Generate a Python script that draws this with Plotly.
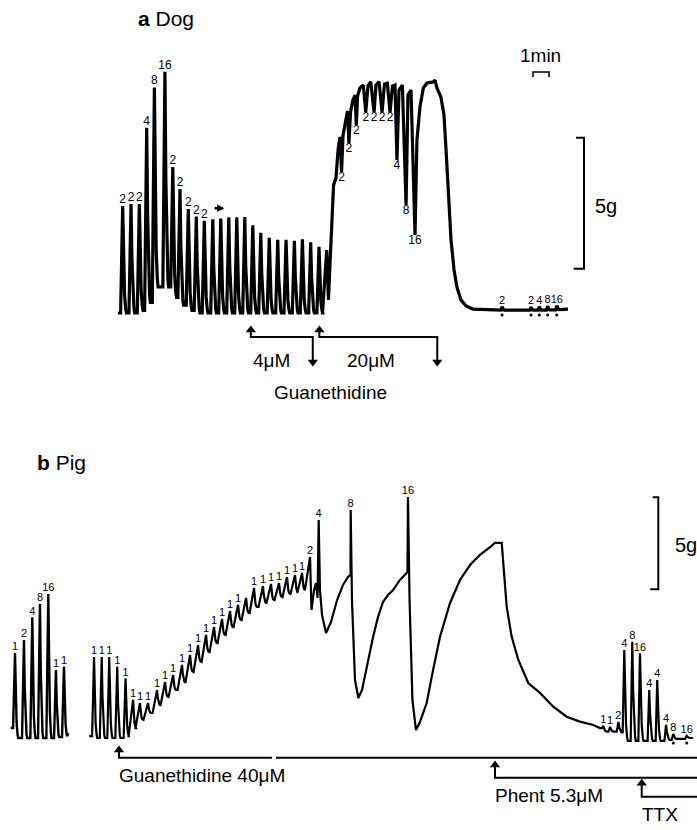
import plotly.graph_objects as go

# ================= DATA =================
# ---- panel a: dog (time in min, tension in g) ----
dog_stim_t = [0.00, 0.52, 1.04, 1.50, 1.98, 2.64, 3.13, 3.58, 4.10, 4.60, 5.10, 5.63, 6.13,
              6.63, 7.13, 7.63, 8.13, 8.63, 9.16, 9.69, 10.21, 10.73, 11.23, 11.75, 12.27]
dog_stim_peak_g = [4.08, 4.16, 4.16, 7.07, 8.61, 9.21, 5.57, 4.73, 3.97, 3.68, 3.52, 3.58, 3.61,
                   3.65, 3.65, 3.66, 3.35, 3.06, 2.87, 2.79, 2.79, 2.76, 2.81, 2.70, 2.53]
dog_stim_trough_g = [0.0, 0.0, 0.1, 0.4, 1.0, 1.0, 0.6, 0.3, 0.1, 0.0, 0.0, 0.0, 0.0,
                     0.0, 0.0, 0.0, 0.0, 0.0, 0.0, 0.0, 0.0, 0.0, 0.0, 0.0, 0.0]
dog_stim_label = ["2", "2", "2", "4", "8", "16", "2", "2", "2", "2", "2", "", "",
                  "", "", "", "", "", "", "", "", "", "", "", ""]

dog_plateau_t = [12.49, 12.75, 12.86, 12.96, 13.08, 13.18, 13.33, 13.46, 13.58, 13.68, 13.77, 13.96,
                 14.05, 14.14, 14.24, 14.39, 14.52, 14.60, 14.68, 14.83, 15.04, 15.19, 15.33, 15.50,
                 15.71, 15.83, 16.02, 16.21, 16.36, 16.54, 16.71, 16.86, 17.02, 17.14, 17.27, 17.48,
                 17.71, 17.83, 18.02, 18.27, 18.39, 18.58, 18.79, 19.02, 19.41, 19.52, 19.64, 19.89,
                 20.08, 20.21, 20.36, 20.52, 20.71, 20.89, 21.14, 21.46, 21.89, 23.58]
dog_plateau_g = [0.00, 2.40, 0.50, 1.95, 3.36, 4.89, 5.15, 6.22, 6.72, 5.38, 6.79, 7.44,
                 7.71, 6.49, 7.67, 8.13, 8.32, 7.18, 8.28, 8.59, 8.70, 7.67, 8.66, 8.83,
                 7.67, 8.70, 8.83, 7.67, 8.74, 8.77, 7.67, 8.66, 8.70, 5.84, 8.51, 8.70,
                 4.12, 8.32, 8.51, 2.98, 6.60, 7.87, 8.59, 8.78, 8.82, 8.89, 8.59, 8.24,
                 7.56, 6.22, 4.31, 2.79, 1.64, 0.99, 0.50, 0.27, 0.15, 0.11]
dog_dip_t = [13.68, 14.14, 14.60, 15.19, 15.71, 16.21, 16.71, 17.14, 17.71, 18.27]
dog_dip_g = [5.38, 6.49, 7.18, 7.67, 7.67, 7.67, 7.67, 5.84, 4.12, 2.98]
dog_dip_label = ["2", "2", "2", "2", "2", "2", "2", "4", "8", "16"]

dog_tail_t = [23.71, 25.52, 26.04, 26.56, 27.13]
dog_tail_peak_g = [0.24, 0.22, 0.24, 0.26, 0.28]
dog_tail_trough_g = [0.11, 0.11, 0.11, 0.12, 0.13]
dog_tail_label = ["2", "2", "4", "8", "16"]
dog_tail_end = (27.83, 0.15)

dog_drug_on_t = [8.01, 12.29]
dog_drug_off_t = [11.88, 19.66]
dog_drug_label = ["4μM", "20μM"]

# ---- panel b: pig ----
pig_pre_t = [0.00, 0.56, 1.08, 1.56, 2.08, 2.56, 3.06]
pig_pre_peak_g = [4.62, 5.33, 6.56, 7.28, 7.83, 3.70, 3.88]
pig_pre_trough_g = [0.0, 0.0, 0.0, 0.0, 0.0, 0.05, 0.1]
pig_pre_label = ["1", "2", "4", "8", "16", "1", "1"]
pig_pre_start = (-0.27, 0.54)
pig_pre_end = (3.33, 0.27)

pig_ctrl_t = [4.94, 5.42, 5.89, 6.39, 6.91]
pig_ctrl_peak_g = [4.40, 4.40, 4.40, 3.88, 3.24]
pig_ctrl_trough_g = [0.0, 0.0, 0.0, 0.0, 0.1]
pig_ctrl_label = ["1", "1", "1", "1", "1"]
pig_ctrl_start = (4.64, 0.10)

pig_ramp_t = [7.38, 7.81, 8.31, 8.88, 9.38, 9.88, 10.44, 10.94, 11.44, 11.94, 12.44,
              12.94, 13.44, 13.94, 14.44, 14.94, 15.50, 16.00, 16.50, 17.00, 17.50, 17.94]
pig_ramp_peak_g = [2.07, 1.90, 1.90, 2.61, 3.04, 3.42, 3.97, 4.51, 5.05, 5.60, 6.03,
                   6.47, 6.90, 7.23, 7.61, 8.15, 8.26, 8.37, 8.42, 8.75, 8.86, 8.97]
pig_ramp_trough_g = [0.54, 0.98, 1.36, 1.79, 2.23, 2.61, 3.04, 3.59, 4.13, 4.67, 5.16,
                     5.60, 6.03, 6.41, 6.79, 7.12, 7.34, 7.50, 7.66, 7.83, 7.93, 8.04]
pig_ramp_label = ["1", "1", "1", "1", "1", "1", "1", "1", "1", "1", "1",
                  "1", "1", "1", "", "1", "1", "1", "1", "1", "1", "1"]

pig_free_t = [18.44, 18.53, 18.69, 18.81, 18.91, 18.98, 19.06, 19.19, 19.44, 19.75, 20.13,
              20.50, 20.81, 20.97, 20.98, 21.06, 21.25, 21.46, 21.69, 22.00, 22.38, 22.69,
              23.00, 23.31, 23.63, 24.06, 24.53, 24.56, 24.66, 24.84, 25.06, 25.31, 25.73,
              26.13, 26.56, 27.19, 27.81, 28.44, 29.06, 29.69, 30.00, 30.42, 30.52, 30.73,
              31.04, 31.46, 32.08, 32.81, 33.64, 34.48, 35.31, 36.14, 36.56]
pig_free_g = [9.84, 6.96, 8.04, 8.42, 7.61, 11.85, 8.04, 6.68, 5.71, 6.30, 7.50,
              8.32, 8.75, 8.86, 12.39, 7.50, 3.15, 2.17, 2.61, 3.97, 5.49, 6.58,
              7.39, 7.77, 8.04, 8.59, 9.02, 13.10, 7.50, 2.07, 0.43, 0.87, 1.90,
              3.70, 5.49, 7.34, 8.59, 9.40, 9.95, 10.38, 10.60, 10.60, 9.31, 7.14,
              5.51, 4.24, 2.99, 2.45, 1.70, 1.16, 0.89, 0.71, 0.54]
pig_free_mark_t = [18.44, 18.98, 20.98, 24.56]
pig_free_mark_g = [9.84, 11.85, 12.39, 13.10]
pig_free_label = ["2", "4", "8", "16"]

pig_post_t = [36.77, 37.19, 37.71, 38.08, 38.58, 39.06, 39.64, 40.14, 40.69, 41.14, 41.98]
pig_post_peak_g = [0.65, 0.60, 0.87, 4.78, 5.23, 4.60, 2.61, 3.15, 0.71, 0.22, 0.11]
pig_post_trough_g = [0.35, 0.35, 0.30, -0.16, -0.16, -0.16, -0.16, -0.16, -0.10, -0.05, 0.0]
pig_post_label = ["1", "1", "2", "4", "8", "16", "4", "4", "4", "8", "16"]
pig_post_end = (42.39, 0.0)

pig_event_t = [6.50, 30.00, 39.17]
pig_event_label = ["Guanethidine 40μM", "Phent 5.3μM", "TTX"]
pig_event_tip_g = [-0.38, -1.20, -2.19]
pig_event_bar_g = [-1.07, -2.16, -3.19]
pig_event_gap_t = [16.06, 16.31]

# ================= LAYOUT CALIBRATION =================
W, H = 697, 830
PX_PER_MIN = 16.0
A_T0_PX, A_BASE_PX, A_PX_PER_G = 122.7, 313.0, 26.2
B_T0_PX, B_BASE_PX, B_PX_PER_G = 15.0, 738.0, 18.4
FONT = "Liberation Sans, Arial, Helvetica, sans-serif"
INK = "#000000"


def wave(times, peaks, troughs, start, rise, fall):
    xs, ys = [start[0]], [start[1]]
    prev = start[1]
    for t, p, b in zip(times, peaks, troughs):
        xs += [t - rise, t, t + 0.25 * fall, t + 0.5 * fall, t + 0.8 * fall, t + fall]
        ys += [prev, p, b + 0.5 * (p - b), b + 0.18 * (p - b), b + 0.04 * (p - b), b]
        prev = b
    return xs, ys


fig = go.Figure()

# ---------------- panel a trace ----------------
ax_, ay_ = wave(dog_stim_t, dog_stim_peak_g, dog_stim_trough_g,
                (dog_stim_t[0] - 0.3, 0.0), 0.13, 0.23)
ax_ += dog_plateau_t
ay_ += dog_plateau_g
tx, ty = wave(dog_tail_t, dog_tail_peak_g, dog_tail_trough_g,
              (dog_plateau_t[-1], dog_plateau_g[-1]), 0.08, 0.12)
ax_ += tx + [dog_tail_end[0]]
ay_ += ty + [dog_tail_end[1]]
fig.add_trace(go.Scatter(x=ax_, y=ay_, mode="lines", line=dict(color=INK, width=3.2),
                         xaxis="x", yaxis="y", hoverinfo="skip"))

# labels on dog
fig.add_trace(go.Scatter(x=dog_stim_t, y=dog_stim_peak_g, mode="text", text=dog_stim_label,
                         textposition="top center",
                         textfont=dict(family=FONT, size=12, color=INK), xaxis="x", yaxis="y"))
fig.add_trace(go.Scatter(x=dog_dip_t, y=dog_dip_g, mode="text", text=dog_dip_label,
                         textposition="bottom center",
                         textfont=dict(family=FONT, size=12, color=INK), xaxis="x", yaxis="y"))
fig.add_trace(go.Scatter(x=dog_tail_t, y=dog_tail_peak_g, mode="text", text=dog_tail_label,
                         textposition="top center",
                         textfont=dict(family=FONT, size=11, color=INK), xaxis="x", yaxis="y"))
fig.add_trace(go.Scatter(x=dog_tail_t, y=[-2.0 / A_PX_PER_G] * len(dog_tail_t), mode="markers",
                         marker=dict(color=INK, size=3), xaxis="x", yaxis="y"))

# arrow after the labelled 2s
fig.add_annotation(x=dog_stim_t[10] + 1.25, y=4.0, ax=dog_stim_t[10] + 0.55, ay=4.0,
                   xref="x", yref="y", axref="x", ayref="y", showarrow=True,
                   arrowhead=2, arrowsize=0.6, arrowwidth=2.4, arrowcolor=INK, text="")

# guanethidine application arrows (panel a)
a_tip = (A_BASE_PX - 325) / A_PX_PER_G
a_bar = (A_BASE_PX - 337) / A_PX_PER_G
a_down = (A_BASE_PX - 367) / A_PX_PER_G
head = 5.0 / A_PX_PER_G
for on, off, lab in zip(dog_drug_on_t, dog_drug_off_t, dog_drug_label):
    fig.add_trace(go.Scatter(x=[on, on, off, off], y=[a_tip - head, a_bar, a_bar, a_down + head],
                             mode="lines", line=dict(color=INK, width=2), xaxis="x", yaxis="y"))
    fig.add_trace(go.Scatter(x=[on, off], y=[a_tip - head, a_down + head], mode="markers",
                             marker=dict(symbol=["triangle-up", "triangle-down"], size=9, color=INK),
                             xaxis="x", yaxis="y"))
    fig.add_annotation(x=on + (off - on) * 0.33 if lab == "4μM" else on + (off - on) * 0.44,
                       y=(A_BASE_PX - 360) / A_PX_PER_G, text=lab, showarrow=False,
                       xref="x", yref="y", font=dict(family=FONT, size=19, color=INK))
fig.add_annotation(x=(330 - A_T0_PX) / PX_PER_MIN, y=(A_BASE_PX - 392) / A_PX_PER_G,
                   text="Guanethidine", showarrow=False, xref="x", yref="y",
                   font=dict(family=FONT, size=19, color=INK))

# time bar and 5 g bar (panel a)
tb_x0 = (533 - A_T0_PX) / PX_PER_MIN
tb_top = (A_BASE_PX - 72) / A_PX_PER_G
tb_leg = (A_BASE_PX - 77) / A_PX_PER_G
fig.add_trace(go.Scatter(x=[tb_x0, tb_x0, tb_x0 + 1, tb_x0 + 1], y=[tb_leg, tb_top, tb_top, tb_leg],
                         mode="lines", line=dict(color=INK, width=1.6), xaxis="x", yaxis="y"))
fig.add_annotation(x=tb_x0 + 0.45, y=(A_BASE_PX - 55) / A_PX_PER_G, text="1min", showarrow=False,
                   xref="x", yref="y", font=dict(family=FONT, size=19, color=INK))
gb_x = (584 - A_T0_PX) / PX_PER_MIN
gb_top = (A_BASE_PX - 137.7) / A_PX_PER_G
fig.add_trace(go.Scatter(x=[gb_x - 0.5, gb_x, gb_x, gb_x - 0.65], y=[gb_top, gb_top, gb_top - 5, gb_top - 5],
                         mode="lines", line=dict(color=INK, width=2), xaxis="x", yaxis="y"))
fig.add_annotation(x=gb_x + 1.4, y=gb_top - 2.6, text="5g", showarrow=False, xref="x", yref="y",
                   font=dict(family=FONT, size=20, color=INK))

# ---------------- panel b trace ----------------
px1, py1 = wave(pig_pre_t, pig_pre_peak_g, pig_pre_trough_g, pig_pre_start, 0.12, 0.2)
px1 += [pig_pre_end[0]]
py1 += [pig_pre_end[1]]
fig.add_trace(go.Scatter(x=px1, y=py1, mode="lines", line=dict(color=INK, width=2.4),
                         xaxis="x2", yaxis="y2"))

cx, cy = wave(pig_ctrl_t, pig_ctrl_peak_g, pig_ctrl_trough_g, pig_ctrl_start, 0.12, 0.2)
rx, ry = wave(pig_ramp_t, pig_ramp_peak_g, pig_ramp_trough_g, (cx[-1], cy[-1]), 0.28, 0.18)
qx, qy = wave(pig_post_t, pig_post_peak_g, pig_post_trough_g, (pig_free_t[-1], pig_free_g[-1]), 0.1, 0.22)
mx = cx + rx[1:] + pig_free_t + qx[1:] + [pig_post_end[0]]
my = cy + ry[1:] + pig_free_g + qy[1:] + [pig_post_end[1]]
fig.add_trace(go.Scatter(x=mx, y=my, mode="lines", line=dict(color=INK, width=2.2),
                         xaxis="x2", yaxis="y2"))

lab_t = pig_pre_t + pig_ctrl_t + pig_ramp_t + pig_free_mark_t + pig_post_t
lab_g = pig_pre_peak_g + pig_ctrl_peak_g + pig_ramp_peak_g + pig_free_mark_g + pig_post_peak_g
lab_s = pig_pre_label + pig_ctrl_label + pig_ramp_label + pig_free_label + pig_post_label
fig.add_trace(go.Scatter(x=lab_t, y=lab_g, mode="text", text=lab_s, textposition="top center",
                         textfont=dict(family=FONT, size=11, color=INK), xaxis="x2", yaxis="y2"))
fig.add_trace(go.Scatter(x=pig_post_t[-2:], y=[-5.0 / B_PX_PER_G] * 2, mode="markers",
                         marker=dict(color=INK, size=3), xaxis="x2", yaxis="y2"))

# drug application lines (panel b)
b_right = (W - B_T0_PX) / PX_PER_MIN + 1
bhead = 5.0 / B_PX_PER_G
for i, (t, lab, tip, bar) in enumerate(zip(pig_event_t, pig_event_label, pig_event_tip_g, pig_event_bar_g)):
    if i == 0:
        xs = [t, t, pig_event_gap_t[0], None, pig_event_gap_t[1], b_right]
        ys = [tip - bhead, bar, bar, None, bar, bar]
    else:
        xs = [t, t, b_right]
        ys = [tip - bhead, bar, bar]
    fig.add_trace(go.Scatter(x=xs, y=ys, mode="lines", line=dict(color=INK, width=2),
                             xaxis="x2", yaxis="y2", connectgaps=False))
    fig.add_trace(go.Scatter(x=[t], y=[tip - bhead], mode="markers",
                             marker=dict(symbol="triangle-up", size=9, color=INK),
                             xaxis="x2", yaxis="y2"))
    fig.add_annotation(x=t - 0.12, y=bar - 0.95, text=lab, showarrow=False, xanchor="left",
                       xref="x2", yref="y2", font=dict(family=FONT, size=19, color=INK))

gb2_x = (658.3 - B_T0_PX) / PX_PER_MIN
gb2_top = (B_BASE_PX - 497.3) / B_PX_PER_G
fig.add_trace(go.Scatter(x=[gb2_x - 0.35, gb2_x, gb2_x, gb2_x - 0.5], y=[gb2_top, gb2_top, gb2_top - 5, gb2_top - 5],
                         mode="lines", line=dict(color=INK, width=2), xaxis="x2", yaxis="y2"))
fig.add_annotation(x=gb2_x + 0.9, y=gb2_top - 2.6, text="5g", showarrow=False, xanchor="left",
                   xref="x2", yref="y2", font=dict(family=FONT, size=20, color=INK))

# panel titles
fig.add_annotation(x=136 / W, y=1 - 18 / H, xref="paper", yref="paper", xanchor="left", yanchor="middle",
                   text="<b>a</b> Dog", showarrow=False, font=dict(family=FONT, size=21, color=INK))
fig.add_annotation(x=35 / W, y=1 - 462 / H, xref="paper", yref="paper", xanchor="left", yanchor="middle",
                   text="<b>b</b> Pig", showarrow=False, font=dict(family=FONT, size=21, color=INK))

axis_common = dict(visible=False, showgrid=False, zeroline=False, fixedrange=True, domain=[0, 1])
fig.update_layout(
    width=W, height=H, autosize=False, showlegend=False,
    margin=dict(l=0, r=0, t=0, b=0, pad=0),
    paper_bgcolor="white", plot_bgcolor="white",
    xaxis=dict(range=[-A_T0_PX / PX_PER_MIN, (W - A_T0_PX) / PX_PER_MIN], **axis_common),
    yaxis=dict(range=[(A_BASE_PX - H) / A_PX_PER_G, A_BASE_PX / A_PX_PER_G], **axis_common),
    xaxis2=dict(range=[-B_T0_PX / PX_PER_MIN, (W - B_T0_PX) / PX_PER_MIN], overlaying="x", **axis_common),
    yaxis2=dict(range=[(B_BASE_PX - H) / B_PX_PER_G, B_BASE_PX / B_PX_PER_G], overlaying="y", **axis_common),
)
fig.write_html("out.html")
